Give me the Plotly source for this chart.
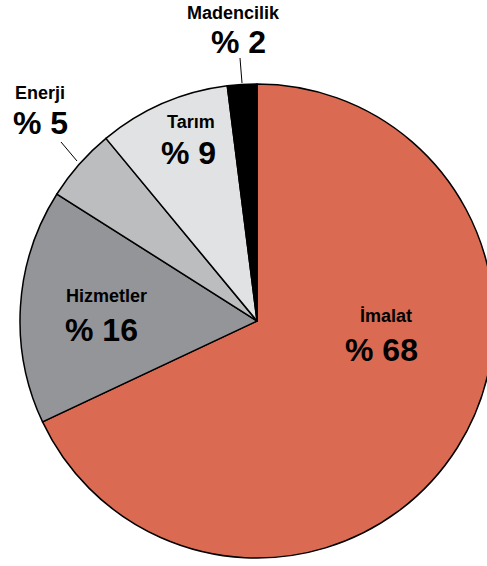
import plotly.graph_objects as go

# Data
sectors = ["İmalat", "Hizmetler", "Enerji", "Tarım", "Madencilik"]
shares = [68, 16, 5, 9, 2]
colors = ["#DA6A51", "#949599", "#BCBDBF", "#E1E2E3", "#000000"]
percent_labels = ["% 68", "% 16", "% 5", "% 9", "% 2"]

W, H = 514, 566

def px(x):
    return x / W

def py(y):
    return 1 - y / H

fig = go.Figure(go.Pie(
    labels=sectors,
    values=shares,
    sort=False,
    direction="clockwise",
    rotation=0,
    marker=dict(colors=colors, line=dict(color="#000000", width=1.5)),
    textinfo="none",
    hoverinfo="label+percent",
    showlegend=False,
    domain=dict(x=[px(20), px(494)], y=[py(558), py(84)]),
))

# label positions (pixel centres) for names and percents
name_pos = [(386, 316), (106, 296), (40, 93), (191, 122), (233, 13)]
pct_pos = [(381, 350), (101, 330), (40, 123), (188, 153), (238, 42)]

font_family = "Liberation Sans, Arial, Helvetica, sans-serif"
for name, pct, (nx, ny), (qx, qy) in zip(sectors, percent_labels, name_pos, pct_pos):
    fig.add_annotation(x=px(nx), y=py(ny), xref="paper", yref="paper",
                       text="<b>" + name + "</b>", showarrow=False,
                       font=dict(family=font_family, size=18, color="#000000"),
                       xanchor="center", yanchor="middle")
    fig.add_annotation(x=px(qx), y=py(qy), xref="paper", yref="paper",
                       text="<b>" + pct + "</b>", showarrow=False,
                       font=dict(family=font_family, size=32, color="#000000"),
                       xanchor="center", yanchor="middle")

# leader lines
fig.add_shape(type="line", xref="paper", yref="paper",
              x0=px(240), y0=py(58), x1=px(242), y1=py(83),
              line=dict(color="#000000", width=1))
fig.add_shape(type="line", xref="paper", yref="paper",
              x0=px(61), y0=py(142), x1=px(77), y1=py(161),
              line=dict(color="#000000", width=1))

fig.update_layout(
    width=W, height=H,
    margin=dict(l=0, r=0, t=0, b=0),
    paper_bgcolor="#FFFFFF",
    plot_bgcolor="#FFFFFF",
)

fig.write_html("out.html",
               config={"displayModeBar": False},
               post_script="document.body.style.margin='0';document.body.style.overflow='hidden';")
